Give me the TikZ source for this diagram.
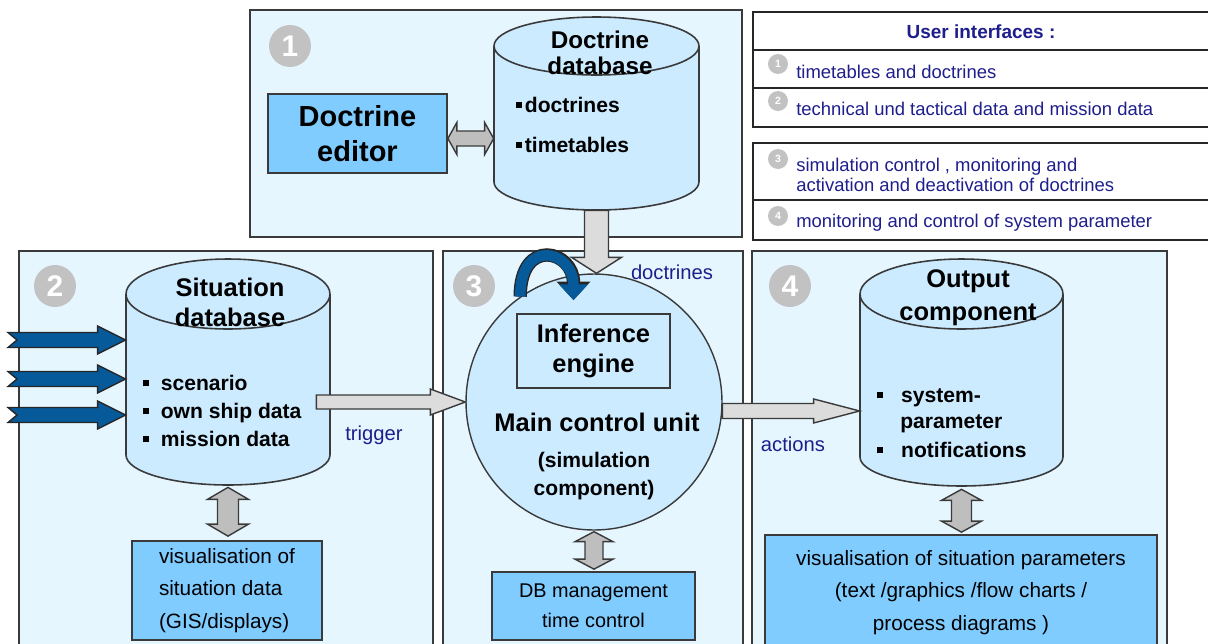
\documentclass[tikz,border=0pt]{standalone}
\usepackage{fontspec}
\setmainfont{Liberation Sans}
\usetikzlibrary{calc,fit,arrows.meta}
\definecolor{panelbg}{HTML}{E6F6FF}
\definecolor{cylbg}{HTML}{CCEBFF}
\definecolor{boxbg}{HTML}{80CCFF}
\definecolor{navy}{HTML}{1E1E8C}
\definecolor{bluearr}{HTML}{065A99}
\definecolor{numgray}{HTML}{C2C2C2}
\definecolor{edge}{HTML}{3A3A3A}
\definecolor{arrgray}{HTML}{DCDCDC}
\definecolor{dblgray}{HTML}{BEBEBE}
\newcommand\bul{\rule[0.2em]{0.28em}{0.28em}}
% horizontal single fat arrow: style, from, to, shaft half, head half, head length
\newcommand\fatH[6]{\draw[#1] ($(#2)+(0,-#4)$) -- ($(#3)+(-#6,-#4)$) -- ($(#3)+(-#6,-#5)$) -- (#3) -- ($(#3)+(-#6,#5)$) -- ($(#3)+(-#6,#4)$) -- ($(#2)+(0,#4)$) -- cycle;}
% vertical single fat arrow downwards
\newcommand\fatV[6]{\draw[#1] ($(#2)+(-#4,0)$) -- ($(#3)+(-#4,-#6)$) -- ($(#3)+(-#5,-#6)$) -- (#3) -- ($(#3)+(#5,-#6)$) -- ($(#3)+(#4,-#6)$) -- ($(#2)+(#4,0)$) -- cycle;}
% vertical double fat arrow, top to bottom
\newcommand\dblV[6]{\draw[#1] (#2) -- ($(#2)+(#5,#6)$) -- ($(#2)+(#4,#6)$) -- ($(#3)+(#4,-#6)$) -- ($(#3)+(#5,-#6)$) -- (#3) -- ($(#3)+(-#5,-#6)$) -- ($(#3)+(-#4,-#6)$) -- ($(#2)+(-#4,#6)$) -- ($(#2)+(-#5,#6)$) -- cycle;}
% horizontal double fat arrow, left to right
\newcommand\dblH[6]{\draw[#1] (#2) -- ($(#2)+(#6,-#5)$) -- ($(#2)+(#6,-#4)$) -- ($(#3)+(-#6,-#4)$) -- ($(#3)+(-#6,-#5)$) -- (#3) -- ($(#3)+(-#6,#5)$) -- ($(#3)+(-#6,#4)$) -- ($(#2)+(#6,#4)$) -- ($(#2)+(#6,#5)$) -- cycle;}
% notched blue input arrow
\newcommand\notchH[2]{\draw[bluearrow] ($(#1)+(0,-7.5)$) -- ($(#2)+(-28,-7.5)$) -- ($(#2)+(-28,-14)$) -- (#2) -- ($(#2)+(-28,14)$) -- ($(#2)+(-28,7.5)$) -- ($(#1)+(0,7.5)$) -- ($(#1)+(9,0)$) -- cycle;}
\begin{document}
\begin{tikzpicture}[x=0.02cm,y=-0.02cm,
  panelbox/.style={fill=panelbg, draw=edge, line width=1.2pt},
  cyledge/.style={draw=edge, line width=0.9pt},
  fillbox/.style={draw=edge, fill=boxbg, line width=1pt, inner sep=0pt},
  badge/.style={circle, fill=numgray, text=white, minimum size=0.84cm, inner sep=0pt, font=\fontsize{17}{17}\selectfont\bfseries},
  uibadge/.style={circle, fill=numgray, text=white, minimum size=0.4cm, inner sep=0pt, font=\fontsize{6}{6}\selectfont\bfseries},
  lightarr/.style={fill=arrgray, draw=edge, line width=0.8pt},
  dblarr/.style={fill=dblgray, draw=edge, line width=0.8pt},
  bluearrow/.style={fill=bluearr, draw=black!85, line width=0.8pt},
  itemtxt/.style={font=\fontsize{12}{14}\selectfont\bfseries, inner sep=0pt, text height=1.6ex, text depth=0.4ex, anchor=west},
  cyltitle/.style={align=center, inner sep=0pt},
  lbl/.style={text=navy, font=\fontsize{11.5}{13}\selectfont, inner sep=0pt},
  uitext/.style={text=navy, font=\fontsize{10.5}{11.5}\selectfont, inner sep=0pt, anchor=west, align=left},
  uiline/.style={draw=black!85, line width=1.3pt}]
\useasboundingbox (0,0) rectangle (1208,643);
\clip (0,0) rectangle (1208,643);

% ---------- panels ----------
\draw[panelbox] (250,10) rectangle (742,237);
\draw[panelbox] (19,251) rectangle (433,670);
\draw[panelbox] (443,251) rectangle (743,670);
\draw[panelbox] (752,251) rectangle (1167,670);

% ---------- user interfaces ----------
\draw[uiline, fill=white] (753,12) rectangle (1220,127);
\draw[uiline] (753,50) -- (1220,50);
\draw[uiline] (753,88) -- (1220,88);
\draw[uiline, fill=white] (753,143) rectangle (1220,240);
\draw[uiline] (753,200) -- (1220,200);
\node[text=navy, font=\fontsize{10.8}{12}\selectfont\bfseries, inner sep=0pt] (uit) at (981,32) {User interfaces :};
\node[uibadge] (u1) at (778,64) {1};
\node[uibadge] (u2) at (778,101) {2};
\node[uibadge] (u3) at (778,159) {3};
\node[uibadge] (u4) at (778,216) {4};
\node[uitext] (ut1) at (796,72) {timetables and doctrines};
\node[uitext] (ut2) at (796,109) {technical und tactical data and mission data};
\node[uitext] (ut3) at (796,175) {simulation control , monitoring and\\activation and deactivation of doctrines};
\node[uitext] (ut4) at (796,223) {monitoring and control of system parameter};

% ---------- panel badges ----------
\node[badge] (n1) at (290,46) {1};
\node[badge] (n2) at (55,286) {2};
\node[badge] (n3) at (474,286) {3};
\node[badge] (n4) at (790,286) {4};

% ---------- panel 1 ----------
\node[fillbox, minimum width=3.58cm, minimum height=1.58cm, align=center, font=\fontsize{16.5}{20}\selectfont\bfseries] (de) at (357.5,133.5) {Doctrine\\editor};
\fill[cylbg] (494,46) -- (494,182) arc[start angle=180,end angle=360,x radius=2.05cm,y radius=0.56cm] -- (699,46) -- cycle;
\fill[cylbg] (596.5,46) ellipse[x radius=2.05cm,y radius=0.58cm];
\draw[cyledge] (494,46) -- (494,182) arc[start angle=180,end angle=360,x radius=2.05cm,y radius=0.56cm] -- (699,46);
\draw[cyledge] (596.5,46) ellipse[x radius=2.05cm,y radius=0.58cm];
\node[fit={(494,17) (699,210)}, inner sep=0pt] (ddb) {};
\node[cyltitle, font=\fontsize{13.8}{14.7}\selectfont\bfseries] (ddbt) at (600,53) {Doctrine\\database};
\node[itemtxt] (ddbi1) at (516,107) {\bul\kern1.5pt doctrines};
\node[itemtxt] (ddbi2) at (516,147) {\bul\kern1.5pt timetables};
\coordinate (d1a) at ($(de.east)+(0,5)$);
\coordinate (d1b) at (ddb.west |- d1a);
\dblH{dblarr}{d1a}{d1b}{7.5}{16}{9}

% ---------- panel 2 ----------
\fill[cylbg] (126,294) -- (126,455) arc[start angle=180,end angle=360,x radius=2.04cm,y radius=0.6cm] -- (330,294) -- cycle;
\fill[cylbg] (228,294) ellipse[x radius=2.04cm,y radius=0.7cm];
\draw[cyledge] (126,294) -- (126,455) arc[start angle=180,end angle=360,x radius=2.04cm,y radius=0.6cm] -- (330,294);
\draw[cyledge] (228,294) ellipse[x radius=2.04cm,y radius=0.7cm];
\node[fit={(126,259) (330,485)}, inner sep=0pt] (sdb) {};
\node[cyltitle, font=\fontsize{14.5}{17}\selectfont\bfseries] (sdbt) at (230,302) {Situation\\database};
\node[itemtxt] (sdbi1) at (143,385) {\bul\hspace{0.55em}scenario};
\node[itemtxt] (sdbi2) at (143,413) {\bul\hspace{0.55em}own ship data};
\node[itemtxt] (sdbi3) at (143,441) {\bul\hspace{0.55em}mission data};
\coordinate (s1) at (8,340);  \coordinate (t1) at (sdb.west |- s1);
\coordinate (s2) at (8,379);  \coordinate (t2) at (sdb.west |- s2);
\coordinate (s3) at (8,415);  \coordinate (t3) at (sdb.west |- s3);
\notchH{s1}{t1}
\notchH{s2}{t2}
\notchH{s3}{t3}
\node[fillbox, minimum width=3.8cm, minimum height=1.98cm, align=left, font=\fontsize{11.8}{18.7}\selectfont] (vis2) at (227,590.5) {visualisation of\\situation data\\(GIS/displays)};
\coordinate (d2a) at ($(sdb.south)+(0,2)$);
\coordinate (d2b) at ($(sdb.south |- vis2.north)+(0,-4)$);
\dblV{dblarr}{d2a}{d2b}{10.5}{20.5}{12}
\node[lbl] (ltrig) at (374,435) {trigger};

% ---------- panel 3 ----------
\node[circle, draw=edge, fill=cylbg, minimum size=5.12cm, inner sep=0pt, line width=0.8pt] (mcu) at (594,402) {};
\node[draw=edge, fill=cylbg, line width=1pt, minimum width=3.06cm, minimum height=1.48cm, inner sep=0pt, align=center, font=\fontsize{14.5}{17}\selectfont\bfseries] (ie) at (593.5,351) {Inference\\engine};
\node[inner sep=0pt, font=\fontsize{14.5}{16}\selectfont\bfseries] (mcut) at (597,422) {Main control unit};
\node[inner sep=0pt, align=center, font=\fontsize{12}{16}\selectfont\bfseries] (simc) at (594,476) {(simulation\\component)};
\coordinate (lt) at (mcu.125);
\coordinate (lh) at ($(ie.north)+(-20,-13)$);
\draw[draw=black!85, line width=7.6pt, -{Triangle[width=18.5pt,length=10.5pt]}] (lt) .. controls +(0,-60) and +(0,-50) .. (lh);
\draw[draw=bluearr, line width=6pt, -{Triangle[width=16pt,length=9pt]}] (lt) .. controls +(0,-60) and +(0,-50) .. (lh);
\node[fillbox, minimum width=4.06cm, minimum height=1.36cm, align=center, font=\fontsize{11.3}{17}\selectfont] (dbm) at (593.5,606) {DB management\\time control};
\coordinate (d3a) at ($(mcu.south)+(0,1)$);
\coordinate (d3b) at ($(mcu.south |- dbm.north)+(0,-2)$);
\dblV{dblarr}{d3a}{d3b}{9}{19}{10}
\coordinate (dt) at (ddb.south |- mcu.north);
\fatV{lightarr}{ddb.south}{dt}{12}{25}{16}
\node[lbl] (ldoc) at (672,272) {doctrines};
\coordinate (trs) at ($(sdb.east |- mcu.west)+(-14,0)$);
\fatH{lightarr}{trs}{mcu.west}{7}{13}{35}

% ---------- panel 4 ----------
\fill[cylbg] (860,294) -- (860,457) arc[start angle=180,end angle=360,x radius=2.03cm,y radius=0.58cm] -- (1063,294) -- cycle;
\fill[cylbg] (961.5,294) ellipse[x radius=2.03cm,y radius=0.7cm];
\draw[cyledge] (860,294) -- (860,457) arc[start angle=180,end angle=360,x radius=2.03cm,y radius=0.58cm] -- (1063,294);
\draw[cyledge] (961.5,294) ellipse[x radius=2.03cm,y radius=0.7cm];
\node[fit={(860,259) (1063,486)}, inner sep=0pt] (oc) {};
\node[cyltitle, font=\fontsize{14.5}{18.7}\selectfont\bfseries] (oct) at (968,298) {Output\\component};
\node[itemtxt] (oci1) at (877,397) {\bul\hspace{0.85em}system-};
\node[itemtxt] (oci2) at (900,423) {parameter};
\node[itemtxt] (oci3) at (877,452) {\bul\hspace{0.85em}notifications};
\coordinate (acs) at (mcu.-4);
\coordinate (act) at (oc.west |- acs);
\fatH{lightarr}{acs}{act}{7.5}{12}{46}
\node[lbl] (lact) at (793,444) {actions};
\node[fillbox, minimum width=7.84cm, minimum height=2.3cm, align=center, font=\fontsize{11.8}{18.7}\selectfont] (vis4) at (961,592.5) {visualisation of situation parameters\\(text /graphics /flow charts /\\process diagrams )};
\coordinate (d4a) at ($(oc.south)+(0,3)$);
\coordinate (d4b) at ($(oc.south |- vis4.north)+(0,-2)$);
\dblV{dblarr}{d4a}{d4b}{10}{20}{11}
\end{tikzpicture}
\end{document}
